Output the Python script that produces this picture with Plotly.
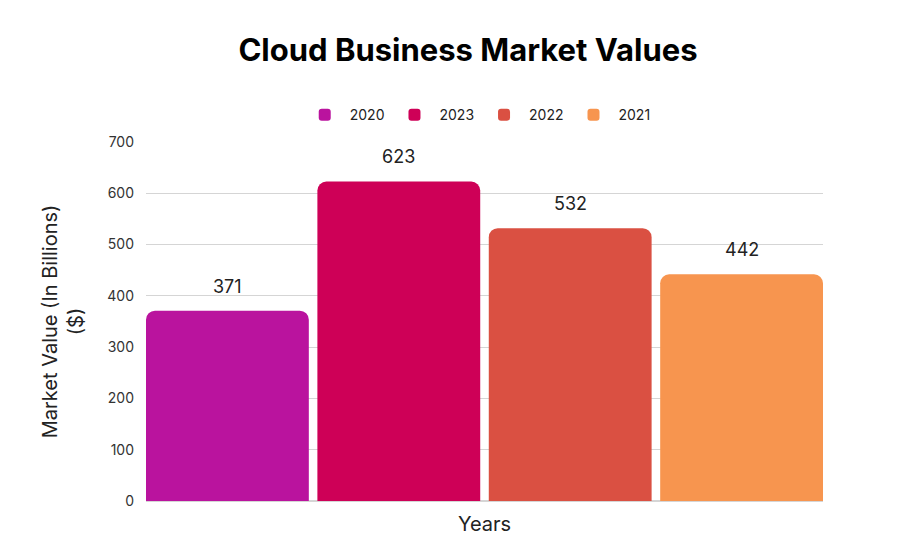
import plotly.graph_objects as go

years = ["2020", "2023", "2022", "2021"]
values = [371, 623, 532, 442]
colors = ["#BA139E", "#CE0057", "#DA5042", "#F7954F"]
y_ticks = [0, 100, 200, 300, 400, 500, 600, 700]

FONT = "Inter"
BAR_W = 0.95

fig = go.Figure()
for i, (yr, v, c) in enumerate(zip(years, values, colors)):
    fig.add_trace(go.Bar(
        name=yr, x=[i], y=[v], width=BAR_W,
        marker=dict(color=c, cornerradius=9, line=dict(width=0)),
    ))
    fig.add_annotation(x=i, y=v, text=str(v), showarrow=False,
                       yanchor="bottom", yshift=12,
                       font=dict(size=18, color="#222222", family=FONT))

fig.update_layout(
    width=900, height=550,
    paper_bgcolor="white", plot_bgcolor="white",
    barmode="overlay",
    margin=dict(l=146, r=77, t=142, b=49),
    title=dict(text="<b>Cloud Business Market Values</b>", x=0.52, xanchor="center",
               y=0.908, yanchor="middle",
               font=dict(family=FONT, size=31, color="#000000")),
    legend=dict(orientation="h", x=0.49, xanchor="center", y=1.075, yanchor="middle",
                font=dict(family=FONT, size=14, color="#222222"),
                itemwidth=40, traceorder="normal"),
    font=dict(family=FONT),
    hovermode=False,
)
fig.update_xaxes(range=[-BAR_W / 2, len(years) - 1 + BAR_W / 2], showticklabels=False,
                 showgrid=False, zeroline=False, showline=False,
                 title=dict(text="Years", font=dict(family=FONT, size=20, color="#222222"),
                            standoff=15))
fig.update_yaxes(range=[0, 700], tickvals=y_ticks, showgrid=True, gridcolor="#D5D5D5",
                 gridwidth=1, zeroline=True, zerolinecolor="#D5D5D5",
                 tickfont=dict(family=FONT, size=14, color="#333333"),
                 ticks="", ticklabelstandoff=11,
                 title=dict(text="Market Value (In Billions)<br>($)",
                            font=dict(family=FONT, size=20, color="#222222"), standoff=18))

fig.write_html("out.html", config={"displayModeBar": False},
               post_script="document.body.style.margin='0';")
